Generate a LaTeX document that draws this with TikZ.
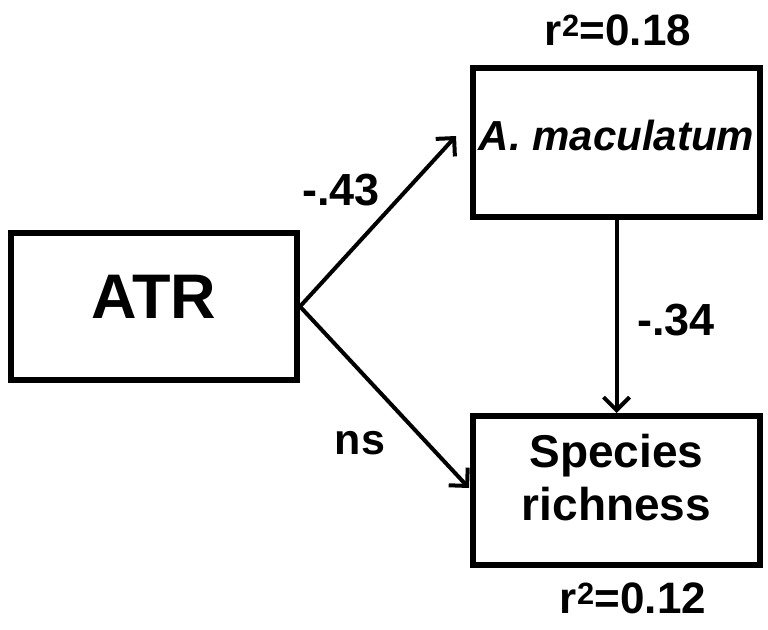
\documentclass[tikz,border=0pt]{standalone}
\usepackage{fontspec}
\setmainfont{Liberation Sans}
\usetikzlibrary{arrows.meta}
\begin{document}
\begin{tikzpicture}[x=1pt,y=-1pt,
  box/.style={draw=black,line width=6pt,minimum width=287pt,minimum height=149pt,inner sep=0pt,rectangle},
  txt/.style={font=\bfseries,inner sep=0pt,align=center},
  lab/.style={txt,font=\fontsize{45}{49}\bfseries\selectfont},
  rsq/.style={txt,font=\fontsize{44}{48}\bfseries\selectfont},
  arr/.style={line width=4pt,-{Straight Barb[length=13pt,width=26pt,line width=4pt]}}]
\useasboundingbox (0,0) rectangle (768,629);
\node[box,minimum width=286pt,minimum height=147pt] (atr) at (154,306.5) {};
\node[box] (amac) at (616.5,142.5) {};
\node[box] (spec) at (616.5,490.5) {};
\node[txt,font=\fontsize{63}{66}\bfseries\selectfont] (atrt) at ([yshift=10pt]atr.center) {ATR};
\node[txt,font=\fontsize{42}{46}\bfseries\itshape\selectfont] (amact) at ([yshift=7.5pt]amac.center) {A. maculatum};
\node[txt,font=\fontsize{46}{53}\bfseries\selectfont] (spect) at ([yshift=13pt]spec.center) {Species\\richness};
\node[rsq] (r1) at (618,30) {r\textsuperscript{2}=0.18};
\node[rsq] (r2) at (633,598) {r\textsuperscript{2}=0.12};
\node[lab] (l1) at (341,190) {-.43};
\node[lab] (l2) at (676,320) {-.34};
\node[lab,font=\fontsize{43}{47}\bfseries\selectfont] (l3) at (360,443) {ns};
\coordinate (e1) at (456,136);
\coordinate (e2) at (469,488);
\draw[arr] (atr.east) -- (e1);
\draw[arr] (atr.east) -- (e2);
\draw[arr] (amac.south) -- (spec.north);
\end{tikzpicture}
\end{document}
